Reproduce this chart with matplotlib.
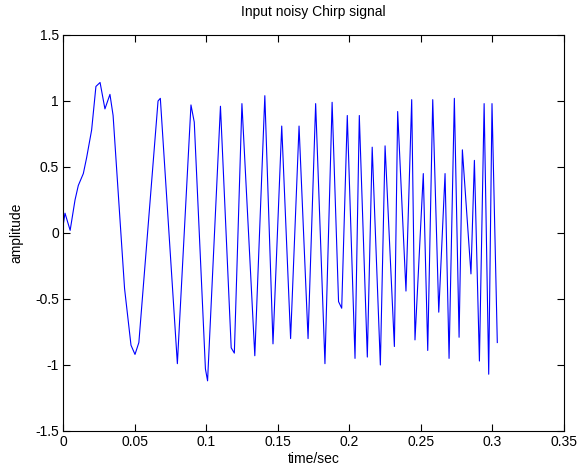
import matplotlib
matplotlib.use('Agg')
import matplotlib.pyplot as plt

# vertices of the noisy chirp (time in s, amplitude)
time_sec = [
    0.000, 0.0014, 0.005, 0.0084, 0.0107, 0.0142, 0.0165, 0.020, 0.023, 0.0259,
    0.0293, 0.0328, 0.035, 0.043, 0.0475, 0.0503, 0.053, 0.0664, 0.068, 0.0799,
    0.0894, 0.0917, 0.0995, 0.101, 0.110, 0.1175, 0.1197, 0.125, 0.134, 0.141,
    0.1467, 0.1528, 0.159, 0.1649, 0.1712, 0.1765, 0.183, 0.188, 0.1925, 0.1947,
    0.1986, 0.204, 0.207, 0.2126, 0.216, 0.2217, 0.225, 0.2315, 0.2338, 0.2396,
    0.2436, 0.2459, 0.2517, 0.2548, 0.2583, 0.2625, 0.2669, 0.2697, 0.2734, 0.2767,
    0.279, 0.285, 0.2874, 0.2909, 0.2942, 0.2974, 0.2997, 0.3034,
]
amplitude = [
    0.05, 0.15, 0.02, 0.25, 0.36, 0.45, 0.57, 0.78, 1.11, 1.14,
    0.94, 1.05, 0.89, -0.42, -0.85, -0.92, -0.83, 1.00, 1.02, -0.99,
    0.97, 0.84, -1.03, -1.12, 0.96, -0.87, -0.91, 0.98, -0.93, 1.04,
    -0.84, 0.81, -0.80, 0.81, -0.80, 0.98, -0.99, 0.99, -0.52, -0.57,
    0.89, -0.95, 0.89, -0.94, 0.65, -1.00, 0.66, -0.86, 0.92, -0.44,
    1.01, -0.81, 0.45, -0.89, 1.01, -0.60, 0.45, -0.95, 1.02, -0.79,
    0.63, -0.31, 0.55, -0.97, 0.98, -1.07, 0.98, -0.83,
]

x_ticks = [0, 0.05, 0.1, 0.15, 0.2, 0.25, 0.3, 0.35]
x_labels = ['0', '0.05', '0.1', '0.15', '0.2', '0.25', '0.3', '0.35']
y_ticks = [-1.5, -1, -0.5, 0, 0.5, 1, 1.5]
y_labels = ['-1.5', '-1', '-0.5', '0', '0.5', '1', '1.5']

plt.rcParams['font.family'] = ['Liberation Sans', 'DejaVu Sans']

fig = plt.figure(figsize=(5.79, 4.70), dpi=100)
ax = fig.add_axes([0.1088, 0.083, 0.8653, 0.8426])

ax.plot(time_sec, amplitude, color='#0000ff', linewidth=0.8)

ax.set_xlim(0, 0.35)
ax.set_ylim(-1.5, 1.5)
ax.set_xticks(x_ticks)
ax.set_xticklabels(x_labels)
ax.set_yticks(y_ticks)
ax.set_yticklabels(y_labels)
ax.tick_params(direction='in', length=5, width=0.8, top=True, right=True,
               labelsize=10, pad=3)
for s in ax.spines.values():
    s.set_linewidth(0.8)

ax.set_title('Input noisy Chirp signal', fontsize=10, pad=14)
ax.set_xlabel('time/sec', fontsize=10, labelpad=2)
ax.set_ylabel('amplitude', fontsize=10, labelpad=8)

fig.savefig('out.png', dpi=100, facecolor='white')
